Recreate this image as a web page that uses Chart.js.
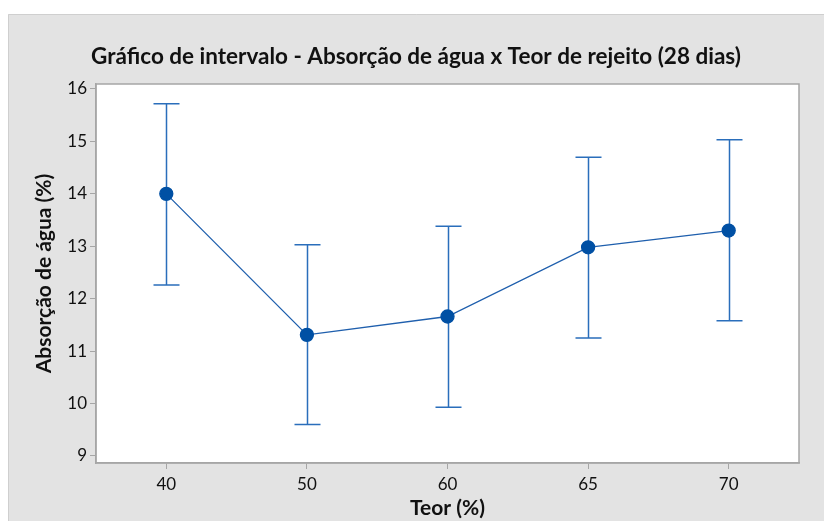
<!DOCTYPE html>
<html>
<head>
<meta charset="utf-8">
<script src="https://cdn.jsdelivr.net/npm/chart.js@4"></script>
<style>
  html, body { margin: 0; padding: 0; background: #fff; }
  #wrap { width: 824px; height: 521px; }
</style>
</head>
<body>
<div id="wrap"><canvas id="intervalChart" width="824" height="521"></canvas></div>
<script>
// Interval plot data
const teor = ['40', '50', '60', '65', '70'];
const media = [14.0, 11.31, 11.66, 12.98, 13.30];
const limInf = [12.26, 9.60, 9.93, 11.25, 11.58];
const limSup = [15.72, 13.03, 13.38, 14.70, 15.03];
const yTicks = [9, 10, 11, 12, 13, 14, 15, 16];

const FONT = 'Lato, "Open Sans", sans-serif';

// gray panel behind everything
const panelBg = {
  id: 'panelBg',
  beforeDraw(chart) {
    const c = chart.ctx;
    c.save();
    c.fillStyle = '#e3e3e3';
    c.fillRect(8, 14, chart.width - 8, chart.height - 14);
    c.strokeStyle = '#cfcfcf';
    c.lineWidth = 1;
    c.beginPath();
    c.moveTo(8.5, chart.height);
    c.lineTo(8.5, 14.5);
    c.lineTo(chart.width, 14.5);
    c.stroke();
    const a = chart.chartArea;
    c.fillStyle = '#ffffff';
    c.fillRect(a.left, a.top, a.right - a.left, a.bottom - a.top);
    c.restore();
  },
  afterDraw(chart) {
    const c = chart.ctx;
    const a = chart.chartArea;
    c.save();
    c.strokeStyle = '#a6a6a6';
    c.lineWidth = 1.5;
    c.strokeRect(a.left, a.top, a.right - a.left, a.bottom - a.top);
    c.restore();
  }
};

// error bars from the interval limits
const errorBars = {
  id: 'errorBars',
  beforeDatasetsDraw(chart) {
    const c = chart.ctx;
    const x = chart.scales.x;
    const y = chart.scales.y;
    c.save();
    c.strokeStyle = '#2a6ebb';
    c.lineWidth = 1.5;
    teor.forEach((t, i) => {
      const px = Math.round(x.getPixelForValue(i)) + 0.5;
      const top = y.getPixelForValue(limSup[i]);
      const bot = y.getPixelForValue(limInf[i]);
      c.beginPath();
      c.moveTo(px, top);
      c.lineTo(px, bot);
      c.moveTo(px - 13, top);
      c.lineTo(px + 13, top);
      c.moveTo(px - 13, bot);
      c.lineTo(px + 13, bot);
      c.stroke();
    });
    c.restore();
  }
};

const ctx = document.getElementById('intervalChart').getContext('2d');
new Chart(ctx, {
  type: 'line',
  data: {
    labels: teor,
    datasets: [{
      data: media,
      borderColor: '#1f5fad',
      borderWidth: 1.3,
      backgroundColor: '#0050a4',
      pointBackgroundColor: '#0050a4',
      pointBorderColor: '#0050a4',
      pointRadius: 6.5,
      tension: 0
    }]
  },
  options: {
    responsive: false,
    animation: false,
    devicePixelRatio: 1,
    layout: {
      padding: { left: 8, right: 0, top: 0, bottom: 0 }
    },
    plugins: {
      legend: { display: false },
      tooltip: { enabled: false },
      title: {
        display: true,
        text: 'Gráfico de intervalo - Absorção de água x Teor de rejeito (28 dias)',
        color: '#111',
        font: { family: FONT, size: 22.5, weight: 'bold' },
        padding: { top: 43, bottom: 14 }
      }
    },
    scales: {
      x: {
        offset: true,
        grid: { drawOnChartArea: false, color: '#a6a6a6', tickLength: 6, offset: false },
        border: { color: '#a6a6a6', width: 1.5 },
        ticks: { color: '#111', font: { family: FONT, size: 17 }, padding: 5 },
        title: {
          display: true,
          text: 'Teor (%)',
          color: '#111',
          font: { family: FONT, size: 21, weight: 'bold' },
          padding: { top: 0, bottom: 0 }
        },
        afterFit(scale) { scale.height = 58; }
      },
      y: {
        min: 8.866,
        max: 16.095,
        afterBuildTicks(scale) { scale.ticks = yTicks.map(v => ({ value: v })); },
        grid: { drawOnChartArea: false, color: '#a6a6a6', tickLength: 6 },
        border: { color: '#a6a6a6', width: 1.5 },
        ticks: { color: '#111', font: { family: FONT, size: 17 }, padding: 3 },
        title: {
          display: true,
          text: 'Absorção de água (%)',
          color: '#111',
          font: { family: FONT, size: 21, weight: 'bold' },
          padding: { top: 24, bottom: 0 }
        },
        afterFit(scale) { scale.width = 88; }
      },
      // empty right margin so the title stays centred on the whole panel
      yRight: {
        position: 'right',
        grid: { display: false },
        border: { display: false },
        ticks: { display: false },
        afterFit(scale) { scale.width = 25; }
      }
    }
  },
  plugins: [panelBg, errorBars]
});
</script>
</body>
</html>
